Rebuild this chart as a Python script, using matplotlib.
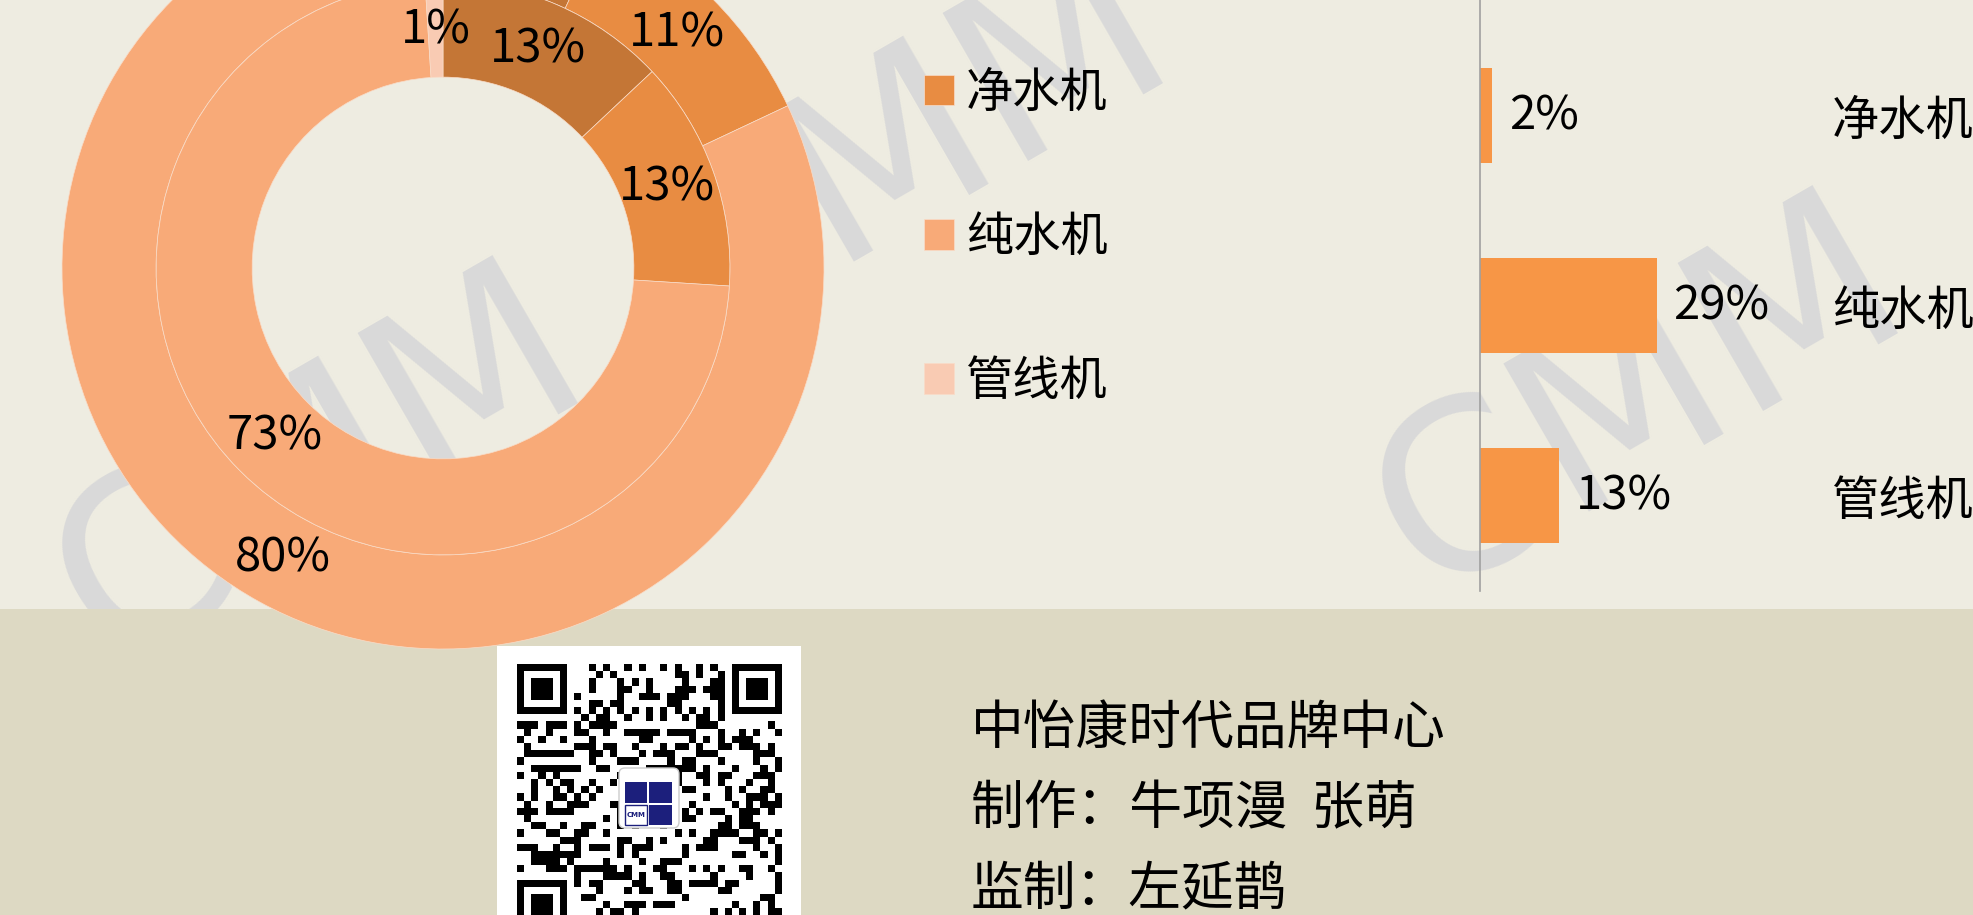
import numpy as np
import matplotlib.pyplot as plt
from matplotlib.patches import Rectangle, FancyBboxPatch

plt.rcParams['font.family'] = ['Noto Sans CJK SC', 'DejaVu Sans']

# ring chart: first category is cut off at the top of the picture
ring_cats = ['', '净水机', '纯水机', '管线机']
inner_vals = [13, 13, 73, 1]
outer_vals = [7, 11, 80, 2]
ring_colors = ['#C47636', '#E88C42', '#F8AA78', '#F9CBB3']

bar_cats = ['净水机', '纯水机', '管线机']
bar_vals = [2, 29, 13]

footer_lines = ['中怡康时代品牌中心', '制作：牛项漫  张萌', '监制：左延鹊']

W, H = 1974, 915
fig = plt.figure(figsize=(W / 100, H / 100), dpi=100, facecolor='#EEECE1')


def box(x0, y0, x1, y1):
    # pixel box (from top-left) -> figure fraction rect
    return [x0 / W, 1 - y1 / H, (x1 - x0) / W, (y1 - y0) / H]


# watermarks and the bottom band, behind the charts
for cx, cy in [(320, 470), (905, 150), (1640, 400)]:
    fig.text(cx / W, 1 - cy / H, 'CMM', family='DejaVu Sans', size=168,
             color='#D9D9D9', rotation=30, rotation_mode='anchor',
             ha='center', va='center', zorder=-2)
fig.add_artist(Rectangle((0, 0), 1, 1 - 609 / H, transform=fig.transFigure,
                         facecolor='#DDD9C3', edgecolor='none', zorder=-1))

# donut
ax = fig.add_axes(box(62, -113, 824, 649))
wp = dict(edgecolor='#F9DCC8', linewidth=0.5)
ax.pie(outer_vals, radius=1, colors=ring_colors, startangle=90, counterclock=False,
       wedgeprops=dict(width=0.247, **wp), autopct='%.0f%%', pctdistance=0.87,
       textprops=dict(size=34, color='black'))
wedges, _, _ = ax.pie(inner_vals, radius=0.753, colors=ring_colors, startangle=90,
                      counterclock=False, wedgeprops=dict(width=0.252, **wp),
                      autopct='%.0f%%', pctdistance=0.83,
                      textprops=dict(size=34, color='black'))
ax.set_xlim(-1, 1)
ax.set_ylim(-1, 1)
ax.set_aspect('equal')

fig.legend(wedges[1:], ring_cats[1:], loc='upper left',
           bbox_to_anchor=(924 / W, 1 - 69 / H), frameon=False, fontsize=34,
           handlelength=0.64, handleheight=0.62, handletextpad=0.25,
           labelspacing=2.03, borderpad=0, borderaxespad=0)

# bars
axb = fig.add_axes(box(1480, 0, 1800, 591))
axb.set_facecolor('none')
bars = axb.barh(range(len(bar_vals)), bar_vals, height=0.5, color='#F79646')
axb.bar_label(bars, labels=[f'{v}%' for v in bar_vals], padding=12, fontsize=34)
axb.set_xlim(0, 52.5)
axb.set_ylim(2.5, -0.61)
axb.set_xticks([])
axb.set_yticks(range(len(bar_cats)), bar_cats)
axb.tick_params(axis='y', length=0, left=False, labelleft=False,
                labelright=True, pad=23, labelsize=34)
for s in ['top', 'right', 'bottom']:
    axb.spines[s].set_visible(False)
axb.spines['left'].set_color('#A0A0A0')
axb.spines['left'].set_linewidth(1.2)

# QR code panel
axq = fig.add_axes(box(497, 646, 801, 960))
axq.set_facecolor('white')
n = 37
i, j = np.indices((n, n))
qr = (((i * 7 + j * 3) ^ (i * j)) % 5) < 2
qr[6, :] = (j[6, :] % 2 == 0)
qr[:, 6] = (i[:, 6] % 2 == 0)
for r0, c0 in [(0, 0), (0, n - 7), (n - 7, 0)]:
    qr[max(r0 - 1, 0):r0 + 8, max(c0 - 1, 0):c0 + 8] = False
    qr[r0:r0 + 7, c0:c0 + 7] = True
    qr[r0 + 1:r0 + 6, c0 + 1:c0 + 6] = False
    qr[r0 + 2:r0 + 5, c0 + 2:c0 + 5] = True
axq.imshow(np.where(qr, 0, 1), cmap='gray', vmin=0, vmax=1, interpolation='nearest',
           extent=(20, 285, 284, 19), aspect='auto')
axq.add_patch(FancyBboxPatch((122, 122), 60, 60, boxstyle='round,pad=0,rounding_size=6',
                             facecolor='white', edgecolor='#CCCCCC', linewidth=1))
for (x, y, w, h) in [(128, 136, 22, 21), (152, 136, 23, 21), (152, 159, 23, 20)]:
    axq.add_patch(Rectangle((x, y), w, h, facecolor='#1C1F7C', edgecolor='none'))
axq.add_patch(Rectangle((128, 159), 22, 20, facecolor='white', edgecolor='#1C1F7C', linewidth=1))
axq.text(139, 169, 'CMM', family='DejaVu Sans', size=5, color='#1C1F7C',
         ha='center', va='center', weight='bold')
axq.set_xlim(0, 304)
axq.set_ylim(314, 0)
axq.set_xticks([])
axq.set_yticks([])
for s in axq.spines.values():
    s.set_visible(False)

# footer text
for k, line in enumerate(footer_lines):
    fig.text(971 / W, 1 - [728, 809, 889][k] / H, line, fontsize=38, va='center')

fig.savefig('out.png', dpi=100, facecolor=fig.get_facecolor())
